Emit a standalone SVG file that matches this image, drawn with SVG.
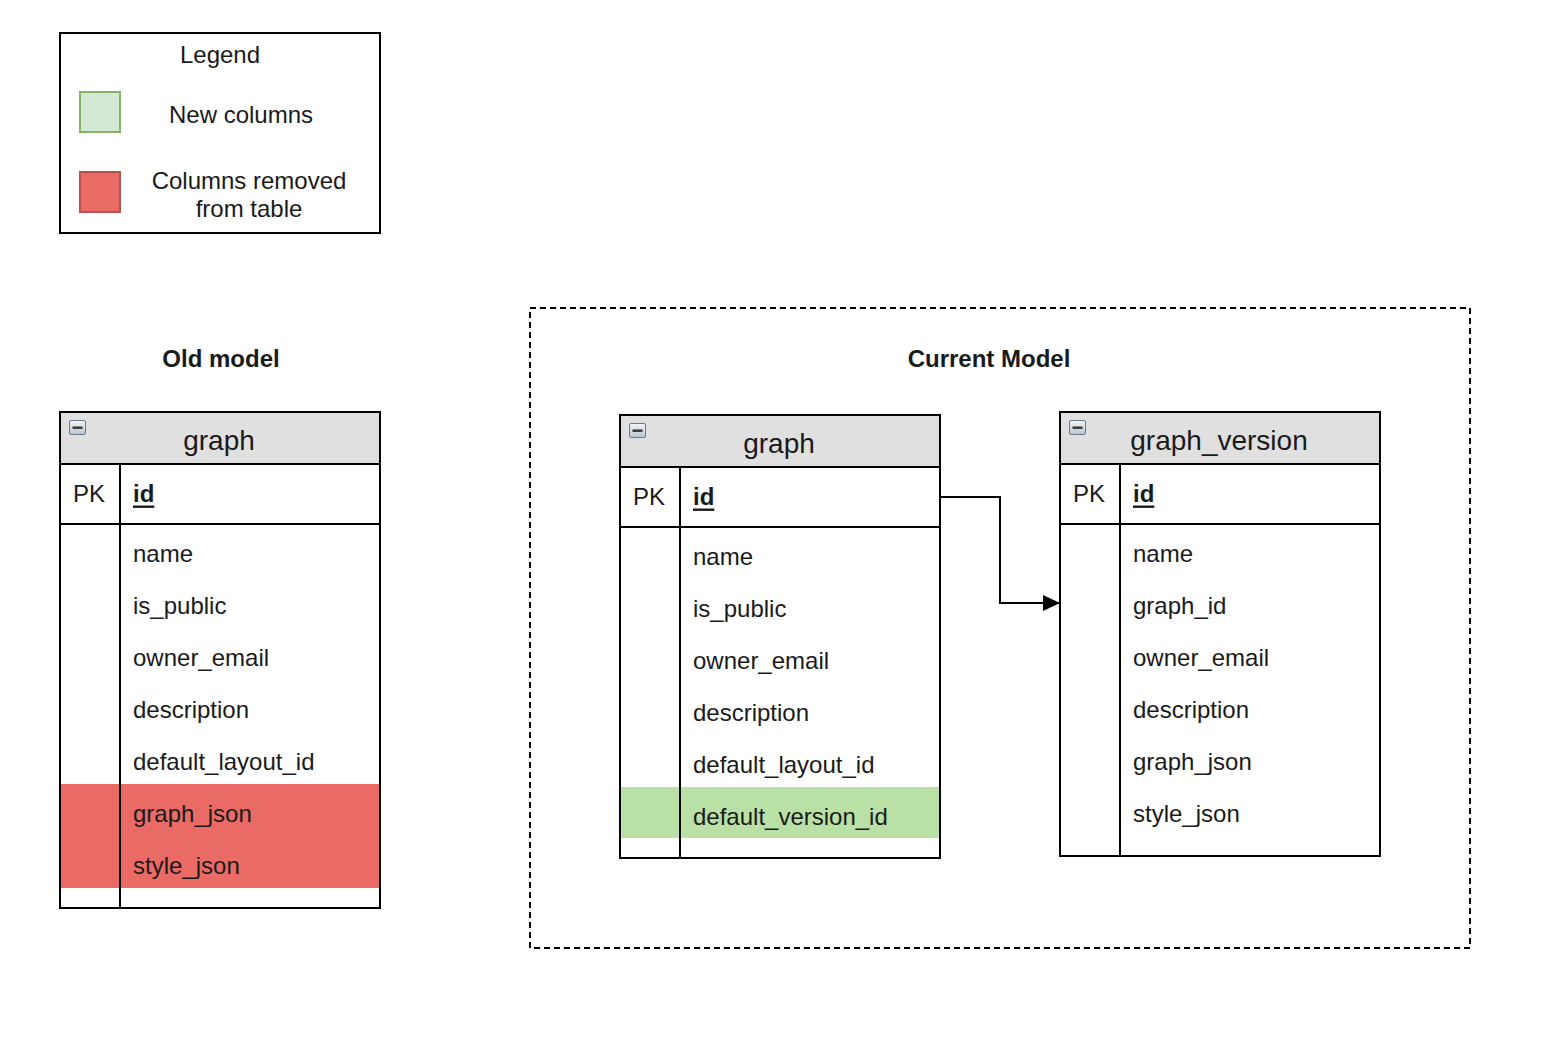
<svg xmlns="http://www.w3.org/2000/svg" width="1551" height="1059" viewBox="0 0 1551 1059">
<style>
text{font-family:"Liberation Sans",Arial,Helvetica,sans-serif;fill:#1a1a1a;}
.t{font-size:24px;dominant-baseline:central;}
.h{font-size:28px;dominant-baseline:central;text-anchor:middle;}
.c{text-anchor:middle;}
.b{font-weight:bold;}
.box{fill:none;stroke:#000;stroke-width:2;}
.hdr{fill:#e0e0e0;stroke:none;}
.ln{stroke:#000;stroke-width:2;fill:none;}
</style>
<defs>
<linearGradient id="ig" x1="0" y1="0" x2="0" y2="1"><stop offset="0" stop-color="#f4f6f8"/><stop offset="1" stop-color="#b8c4d0"/></linearGradient>
<g id="minus"><rect x="0.5" y="0.5" width="16" height="14" rx="1.5" fill="url(#ig)" stroke="#6b7b8b" stroke-width="1"/><rect x="3.5" y="6.5" width="10" height="2.4" fill="#333"/></g>
<marker id="arr" markerWidth="18" markerHeight="18" refX="17" refY="8" orient="auto" markerUnits="userSpaceOnUse"><path d="M0,0 L17,8 L0,16 Z" fill="#000"/></marker>
</defs>
<rect width="1551" height="1059" fill="#fff"/>

<g id="legend">
<rect x="60" y="33" width="320" height="200" class="box"/>
<text class="t c" x="220" y="54">Legend</text>
<rect x="80" y="92" width="40" height="40" fill="#d5e8d4" stroke="#82b366" stroke-width="2"/>
<text class="t c" x="241" y="114">New columns</text>
<rect x="80" y="172" width="40" height="40" fill="#ea6b66" stroke="#b85450" stroke-width="2"/>
<text class="t c" x="249" y="180">Columns removed</text>
<text class="t c" x="249" y="208">from table</text>
</g>

<g id="old-model">
<text class="t c b" x="221" y="358">Old model</text>
<rect x="60" y="412" width="320" height="496" fill="#fff"/>
<rect x="60" y="412" width="320" height="52" class="hdr"/>
<rect x="60" y="784" width="320" height="104" fill="#ea6b66"/>
<rect x="60" y="412" width="320" height="496" class="box"/>
<line x1="60" y1="464" x2="380" y2="464" class="ln"/>
<line x1="60" y1="524" x2="380" y2="524" class="ln"/>
<line x1="120" y1="464" x2="120" y2="908" class="ln"/>
<use href="#minus" x="69" y="420"/>
<text class="h" x="219" y="440">graph</text>
<text class="t" x="73" y="493">PK</text>
<text class="t b" x="133" y="493" text-decoration="underline">id</text>
<text class="t" x="133" y="553">name</text>
<text class="t" x="133" y="605">is_public</text>
<text class="t" x="133" y="657">owner_email</text>
<text class="t" x="133" y="709">description</text>
<text class="t" x="133" y="761">default_layout_id</text>
<text class="t" x="133" y="813">graph_json</text>
<text class="t" x="133" y="865">style_json</text>
</g>

<g id="current-model">
<rect x="530" y="308" width="940" height="640" fill="none" stroke="#000" stroke-width="2" stroke-dasharray="6,4"/>
<text class="t c b" x="989" y="358">Current Model</text>
</g>

<g id="graph">
<rect x="620" y="415" width="320" height="443" fill="#fff"/>
<rect x="620" y="415" width="320" height="52" class="hdr"/>
<rect x="620" y="787" width="320" height="51" fill="#b9e0a5"/>
<rect x="620" y="415" width="320" height="443" class="box"/>
<line x1="620" y1="467" x2="940" y2="467" class="ln"/>
<line x1="620" y1="527" x2="940" y2="527" class="ln"/>
<line x1="680" y1="467" x2="680" y2="858" class="ln"/>
<use href="#minus" x="629" y="423"/>
<text class="h" x="779" y="443">graph</text>
<text class="t" x="633" y="496">PK</text>
<text class="t b" x="693" y="496" text-decoration="underline">id</text>
<text class="t" x="693" y="556">name</text>
<text class="t" x="693" y="608">is_public</text>
<text class="t" x="693" y="660">owner_email</text>
<text class="t" x="693" y="712">description</text>
<text class="t" x="693" y="764">default_layout_id</text>
<text class="t" x="693" y="816">default_version_id</text>
</g>

<g id="graph_version">
<rect x="1060" y="412" width="320" height="444" fill="#fff"/>
<rect x="1060" y="412" width="320" height="52" class="hdr"/>
<rect x="1060" y="412" width="320" height="444" class="box"/>
<line x1="1060" y1="464" x2="1380" y2="464" class="ln"/>
<line x1="1060" y1="524" x2="1380" y2="524" class="ln"/>
<line x1="1120" y1="464" x2="1120" y2="856" class="ln"/>
<use href="#minus" x="1069" y="420"/>
<text class="h" x="1219" y="440">graph_version</text>
<text class="t" x="1073" y="493">PK</text>
<text class="t b" x="1133" y="493" text-decoration="underline">id</text>
<text class="t" x="1133" y="553">name</text>
<text class="t" x="1133" y="605">graph_id</text>
<text class="t" x="1133" y="657">owner_email</text>
<text class="t" x="1133" y="709">description</text>
<text class="t" x="1133" y="761">graph_json</text>
<text class="t" x="1133" y="813">style_json</text>
</g>

<g id="connectors">
<path d="M940,497 H1000 V603 H1060" class="ln" marker-end="url(#arr)"/>
</g>
</svg>
